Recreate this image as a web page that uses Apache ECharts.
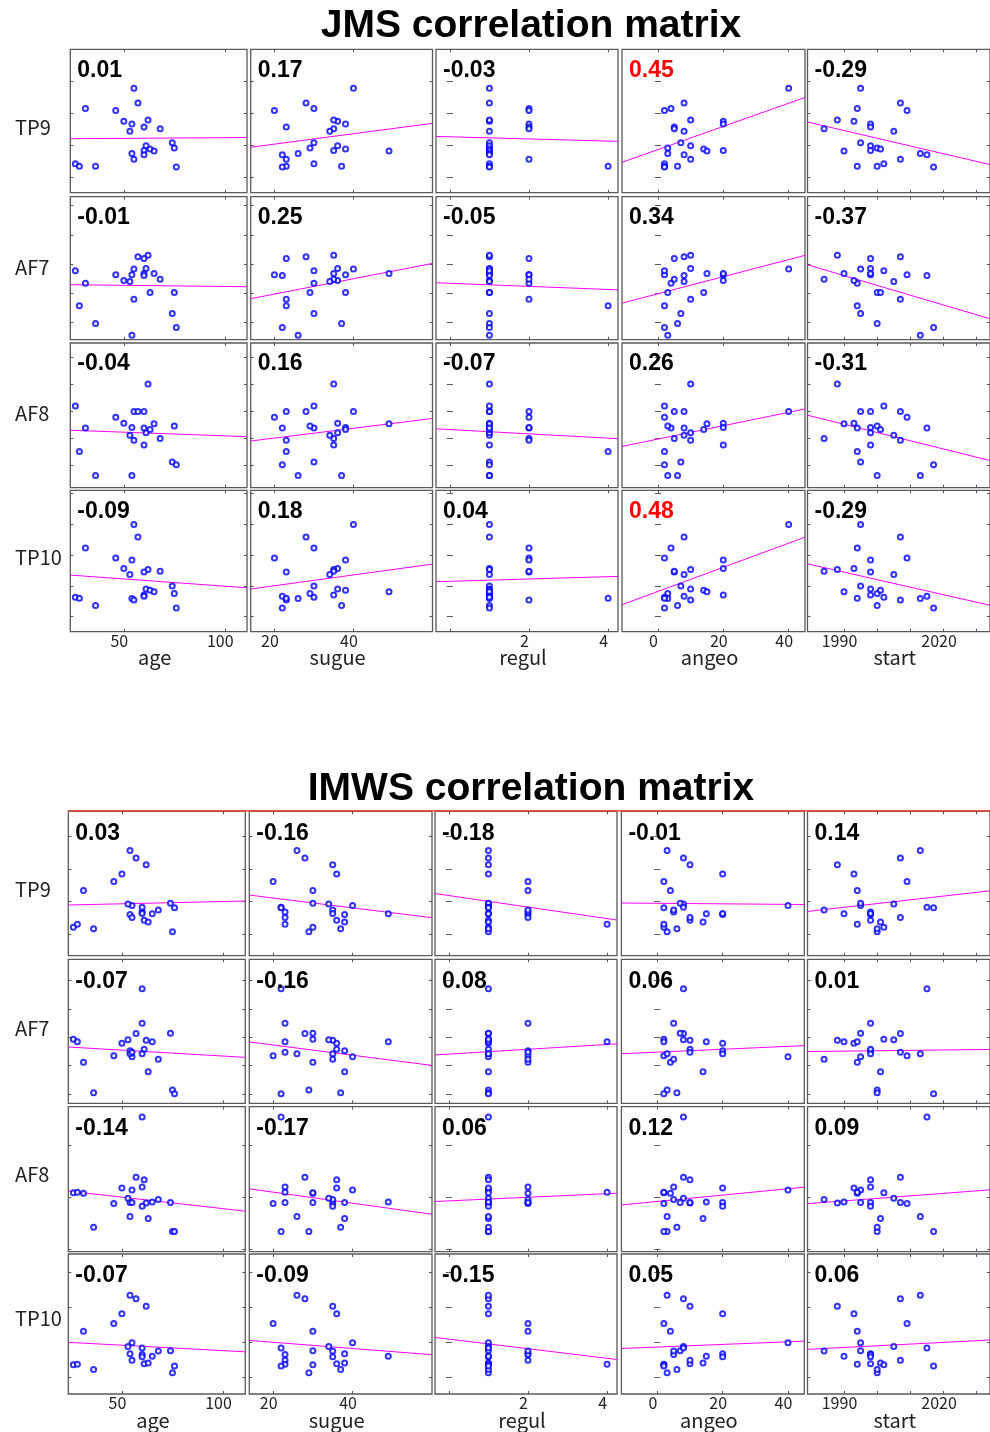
<!DOCTYPE html>
<html lang="en">

<head>
    <meta charset="UTF-8">
    <title>JMS / IMWS correlation matrix</title>
    <style>
        body { margin: 0; background: #fff; }
        #main { width: 990px; height: 1432px; }
    </style>
</head>

<body>
    <div id="main"></div>
    <script src="https://cdn.jsdelivr.net/npm/echarts@6/dist/echarts.min.js"></script>
    <script>
        // same 23 subjects in both matrices (x variables)
        const age = [55, 57, 31, 46, 50, 54, 62, 60, 68, 53, 74, 75, 61, 60, 63, 65, 54, 60, 55, 26, 28, 36, 76]
        const sugue = [40, 28, 30, 20, 36, 38, 35, 23, 35, 34, 30, 29, 36, 35, 38, 49, 26, 22, 23, 30, 23, 37, 22]
        const regul = [1, 1, 2, 2, 1, 2, 1, 2, 2, 1, 1, 1, 1, 1, 1, 1, 1, 1, 2, 1, 4, 1, 1]
        const angeo = [40, 8, 4, 2, 20, 20, 10, 5, 5, 8, 7, 3, 10, 20, 14, 15, 3, 8, 10, 2, 2, 6, 2]
        const start = [1995, 2007, 1994, 2009, 1993, 1998, 1988, 1998, 1984, 2005, 1995, 2000, 1998, 1998, 2001, 1990, 2013, 2015, 2007, 2002, 1994, 2000, 2017]

        // JMS channel values
        const jmsTP9 = [3.77, 3.31, 3.14, 3.08, 2.74, 2.66, 2.78, 2.56, 2.51, 2.43, 2.07, 1.91, 1.98, 1.83, 1.88, 1.82, 1.74, 1.70, 1.56, 1.42, 1.34, 1.34, 1.32]
        const jmsAF7 = [2.83, 3.25, 2.35, 2.64, 2.44, 2.64, 3.30, 3.19, 2.48, 2.41, 1.31, 2.03, 2.85, 2.68, 2.03, 2.68, 0.57, 2.61, 1.80, 2.77, 1.58, 0.97, 0.84]
        const jmsAF8 = [2.99, 2.99, 2.38, 2.78, 2.56, 2.40, 4.01, 2.99, 1.99, 2.11, 1.12, 2.46, 2.21, 1.75, 2.33, 2.54, 0.62, 2.38, 1.93, 3.20, 1.51, 0.62, 1.02]
        const jmsTP10 = [4.00, 3.59, 3.23, 2.91, 2.57, 2.84, 2.53, 2.45, 2.48, 2.37, 2.00, 1.75, 1.90, 1.70, 1.86, 1.81, 1.59, 1.66, 1.54, 1.63, 1.60, 1.36, 1.28]

        // IMWS channel values
        const imwsTP9 = [1.88, 3.34, 2.34, 2.62, 2.85, 1.60, 3.13, 1.68, 1.74, 1.92, 1.95, 1.07, 1.42, 1.63, 1.37, 1.62, 3.57, 1.82, 1.51, 1.21, 1.30, 1.16, 1.81]
        const imwsAF7 = [2.31, 3.13, 2.12, 2.35, 2.79, 2.52, 2.89, 3.49, 2.22, 2.91, 3.14, 1.14, 2.58, 2.42, 1.78, 2.84, 2.42, 4.71, 2.47, 2.93, 2.84, 1.04, 1.01]
        const imwsAF8 = [2.14, 2.39, 2.08, 1.88, 2.18, 1.90, 1.89, 2.20, 1.96, 1.98, 1.90, 1.34, 2.34, 1.83, 1.59, 1.91, 1.63, 3.55, 1.90, 2.09, 2.10, 1.42, 1.34]
        const imwsTP10 = [1.98, 3.24, 2.31, 2.53, 2.81, 1.66, 3.02, 1.64, 1.74, 1.87, 1.75, 1.12, 1.38, 1.58, 1.40, 1.59, 3.34, 1.83, 1.48, 1.35, 1.36, 1.21, 1.31]

        // correlation coefficients printed in each panel
        const jmsR = [
            [0.01, 0.17, -0.03, 0.45, -0.29],
            [-0.01, 0.25, -0.05, 0.34, -0.37],
            [-0.04, 0.16, -0.07, 0.26, -0.31],
            [-0.09, 0.18, 0.04, 0.48, -0.29]
        ]
        const imwsR = [
            [0.03, -0.16, -0.18, -0.01, 0.14],
            [-0.07, -0.16, 0.08, 0.06, 0.01],
            [-0.14, -0.17, 0.06, 0.12, 0.09],
            [-0.07, -0.09, -0.15, 0.05, 0.06]
        ]

        const rowNames = ['TP9', 'AF7', 'AF8', 'TP10']
        const xNames = ['age', 'sugue', 'regul', 'angeo', 'start']
        const xData = [age, sugue, regul, angeo, start]
        const xRange = [[23.5, 111], [14, 60], [-0.35, 4.25], [-11, 45], [1979, 2034]]
        const xTicks = [[50, 100], [20, 40], [0, 2, 4], [0, 20, 40], [1990, 2000, 2010, 2020, 2030]]
        const xLabels = [[50, 100], [20, 40], [2, 4], [0, 20, 40], [1990, 2020]]

        const blocks = [{
            title: 'JMS correlation matrix',
            titleY: 26,
            rows: [jmsTP9, jmsAF7, jmsAF8, jmsTP10],
            r: jmsR,
            yRange: [[0.52, 4.98], [0.42, 5.30], [0.17, 5.53], [0.51, 5.11]],
            colX: [[70.3, 247], [250.7, 432.5], [436, 618], [622, 805], [807.5, 990]],
            rowY: [[49.3, 192.7], [196.7, 339.7], [343, 487.7], [490.3, 631.7]],
            labelY: [127, 267, 413, 557],
            rDy: 21
        }, {
            title: 'IMWS correlation matrix',
            titleY: 789,
            rows: [imwsTP9, imwsAF7, imwsAF8, imwsTP10],
            r: imwsR,
            yRange: [[0.33, 4.78], [0.67, 5.75], [0.95, 3.75], [0.51, 4.52]],
            colX: [[68.3, 245.3], [249.3, 432], [435, 617], [621.4, 804.3], [807.5, 990]],
            rowY: [[811.3, 955.7], [959.3, 1103.3], [1106.7, 1251.7], [1254, 1394]],
            labelY: [889, 1028, 1174, 1318],
            rDy: 22
        }]

        const labelFont = '"Noto Sans CJK KR", "Noto Sans", sans-serif'

        function fit(xs, ys) {
            const n = xs.length
            const mx = xs.reduce((s, v) => s + v, 0) / n
            const my = ys.reduce((s, v) => s + v, 0) / n
            let sxy = 0, sxx = 0
            for (let i = 0; i < n; i++) {
                sxy += (xs[i] - mx) * (ys[i] - my)
                sxx += (xs[i] - mx) * (xs[i] - mx)
            }
            const b = sxy / sxx
            return { a: my - b * mx, b: b }
        }

        function intTicks(lo, hi) {
            const t = []
            for (let v = Math.ceil(lo); v <= hi; v++) t.push(v)
            return t
        }

        const grid = [], xAxis = [], yAxis = [], series = [], graphic = []

        blocks.forEach((blk) => {
            graphic.push({
                type: 'text', x: 531, y: blk.titleY,
                style: {
                    text: blk.title, font: 'bold 39px "Liberation Sans", Arial, sans-serif',
                    fill: '#000', textAlign: 'center', textVerticalAlign: 'middle'
                }
            })
            blk.rows.forEach((ys, i) => {
                graphic.push({
                    type: 'text', x: 15, y: blk.labelY[i],
                    style: {
                        text: rowNames[i], font: '20px ' + labelFont,
                        fill: '#222', textAlign: 'left', textVerticalAlign: 'middle'
                    }
                })
                xData.forEach((xs, j) => {
                    const k = grid.length
                    const [x0, x1] = blk.colX[j]
                    const [y0, y1] = blk.rowY[i]
                    const bottom = i === blk.rows.length - 1
                    grid.push({
                        left: x0, top: y0, width: x1 - x0, height: y1 - y0,
                        show: true, borderColor: '#5a5a5a', borderWidth: 1.3
                    })
                    const tick = { show: true, inside: true, length: 3, customValues: xTicks[j], lineStyle: { color: '#555' } }
                    xAxis.push({
                        type: 'value', gridIndex: k, position: 'bottom',
                        min: xRange[j][0], max: xRange[j][1],
                        splitLine: { show: false }, axisLine: { show: false },
                        axisTick: tick,
                        axisLabel: {
                            show: bottom, customValues: xLabels[j], fontSize: 16, color: '#222',
                            fontFamily: labelFont, margin: 1, padding: [0, 9, 0, 0],
                            formatter: v => String(v)
                        },
                        name: bottom ? xNames[j] : '', nameLocation: 'middle', nameGap: 16,
                        nameMoveOverlap: false,
                        nameTextStyle: { fontSize: 20, color: '#222', fontFamily: labelFont, padding: [0, 8, 0, 0] }
                    })
                    xAxis.push({
                        type: 'value', gridIndex: k, position: 'top',
                        min: xRange[j][0], max: xRange[j][1],
                        splitLine: { show: false }, axisLine: { show: false },
                        axisTick: tick, axisLabel: { show: false }
                    })
                    const yr = blk.yRange[i]
                    const ytick = { show: true, inside: true, length: 3, customValues: intTicks(yr[0], yr[1]), lineStyle: { color: '#555' } }
                    yAxis.push({
                        type: 'value', gridIndex: k, position: 'left', min: yr[0], max: yr[1],
                        splitLine: { show: false }, axisLine: { show: false },
                        axisTick: ytick, axisLabel: { show: false }
                    })
                    yAxis.push({
                        type: 'value', gridIndex: k, position: 'right', min: yr[0], max: yr[1],
                        splitLine: { show: false }, axisLine: { show: false },
                        axisTick: ytick, axisLabel: { show: false }
                    })

                    const f = fit(xs, ys)
                    series.push({
                        type: 'line', xAxisIndex: 2 * k, yAxisIndex: 2 * k,
                        data: xRange[j].map(x => [x, f.a + f.b * x]),
                        symbol: 'none', silent: true, clip: true, z: 2,
                        lineStyle: { color: '#ff00ff', width: 1 }
                    })
                    series.push({
                        type: 'scatter', xAxisIndex: 2 * k, yAxisIndex: 2 * k,
                        data: xs.map((x, t) => [x, ys[t]]),
                        symbol: 'emptyCircle', symbolSize: 5, z: 3,
                        itemStyle: { color: '#0000ff', borderWidth: 1 }
                    })

                    const r = blk.r[i][j]
                    graphic.push({
                        type: 'text', x: x0 + 7, y: y0 + blk.rDy, z: 10,
                        style: {
                            text: r.toFixed(2), font: 'bold 23px "Liberation Sans", Arial, sans-serif',
                            fill: Math.abs(r) >= 0.4 ? '#ff0000' : '#000',
                            textAlign: 'left', textVerticalAlign: 'middle'
                        }
                    })
                })
            })
        })

        // orange rule above the IMWS panels
        graphic.push({
            type: 'line', shape: { x1: 68, y1: 810.7, x2: 990, y2: 810.7 },
            style: { stroke: '#ee5533', lineWidth: 1.5 }, z: 5
        })

        const myChart = echarts.init(document.getElementById('main'))
        myChart.setOption({
            animation: false,
            grid: grid,
            xAxis: xAxis,
            yAxis: yAxis,
            series: series,
            graphic: graphic
        })
    </script>
</body>

</html>
